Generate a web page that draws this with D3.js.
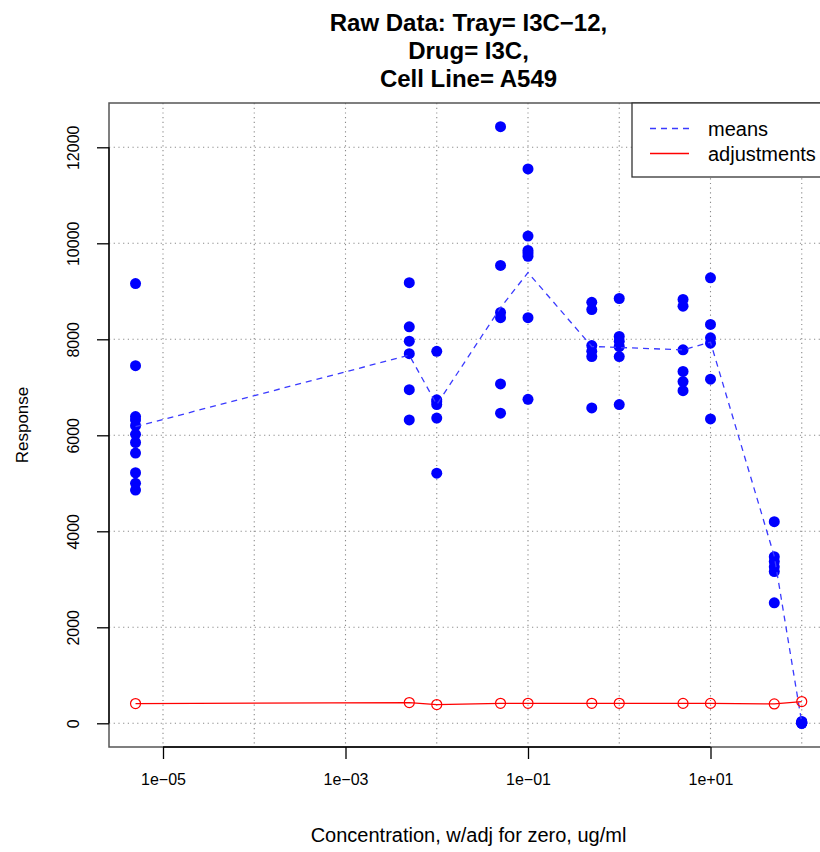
<!DOCTYPE html>
<html>
<head>
<meta charset="utf-8">
<script src="https://cdn.jsdelivr.net/npm/d3@7"></script>
<style>
  body { margin: 0; background: #fff; }
  svg { font-family: "Liberation Sans", Arial, sans-serif; }
</style>
</head>
<body>
<div id="chart"></div>
<script>
// concentrations (ug/ml, zero adjusted)
var concs = [5e-6, 0.005, 0.01, 0.05, 0.1, 0.5, 1, 5, 10, 50, 100];

// raw responses, one list per concentration
var responses = [
  [9160, 7450, 6390, 6320, 6200, 6020, 5850, 5630, 5220, 5000, 4860],
  [9180, 8260, 7960, 7700, 6950, 6320],
  [7750, 6740, 6700, 6640, 6360, 5210],
  [12430, 9540, 8560, 8450, 7070, 6460],
  [11550, 10150, 9850, 9800, 9730, 8450, 6750],
  [8770, 8620, 7870, 7750, 7640, 6570],
  [8850, 8060, 7960, 7850, 7640, 6640],
  [8830, 8690, 7780, 7330, 7120, 6930],
  [9280, 8310, 8030, 7920, 7170, 6340],
  [4200, 3470, 3370, 3260, 3160, 2510],
  [40, 25, 15, 5, 0, 0]
];

var means = [6180, 7670, 6640, 8660, 9390, 7850, 7830, 7780, 7940, 3480, 15];
var adjustments = [411, 432, 390, 417, 417, 417, 417, 415, 415, 403, 453];

var xTicks = [1e-5, 1e-3, 1e-1, 1e1];
var xTickLabels = ["1e\u221205", "1e\u221203", "1e\u221201", "1e+01"];
var xGrid = [1e-5, 1e-4, 1e-3, 1e-2, 1e-1, 1e0, 1e1, 1e2];
var yTicks = [0, 2000, 4000, 6000, 8000, 10000, 12000];

var titleLines = ["Raw Data: Tray= I3C\u221212,", "Drug= I3C,", "Cell Line= A549"];

var width = 820, height = 852;
var box = { left: 109, top: 103, right: 828, bottom: 747 };

var svg = d3.select("#chart").append("svg")
  .attr("width", width)
  .attr("height", height);

var x = d3.scaleLog().domain([1e-5, 1e2]).range([163, 801.75]);
var y = d3.scaleLinear().domain([0, 12000]).range([723.3, 147.3]);

// grid
var grid = svg.append("g")
  .attr("stroke", "#8a8a8a")
  .attr("stroke-width", 1.1)
  .attr("stroke-dasharray", "1.2,3.5");
grid.selectAll("line.v").data(xGrid).enter().append("line")
  .attr("x1", function(d) { return x(d); })
  .attr("x2", function(d) { return x(d); })
  .attr("y1", box.top).attr("y2", box.bottom);
grid.selectAll("line.h").data(yTicks).enter().append("line")
  .attr("y1", function(d) { return y(d); })
  .attr("y2", function(d) { return y(d); })
  .attr("x1", box.left).attr("x2", box.right);

// plot box
svg.append("rect")
  .attr("x", box.left).attr("y", box.top)
  .attr("width", box.right - box.left).attr("height", box.bottom - box.top)
  .attr("fill", "none").attr("stroke", "#555").attr("stroke-width", 1.5);

// axes
var xAxis = d3.axisBottom(x).tickValues(xTicks)
  .tickFormat(function(d, i) { return xTickLabels[i]; })
  .tickSize(12).tickPadding(15).tickSizeOuter(0);
var gx = svg.append("g").attr("transform", "translate(0," + box.bottom + ")").call(xAxis);
gx.select(".domain").remove();
gx.append("line").attr("x1", x(xTicks[0])).attr("x2", x(xTicks[xTicks.length - 1]))
  .attr("stroke", "#000").attr("stroke-width", 1.3);

var yAxis = d3.axisLeft(y).tickValues(yTicks).tickFormat(d3.format("d"))
  .tickSize(12).tickPadding(0).tickSizeOuter(0);
var gy = svg.append("g").attr("transform", "translate(" + box.left + ",0)").call(yAxis);
gy.select(".domain").remove();
gy.append("line").attr("y1", y(0)).attr("y2", y(12000))
  .attr("stroke", "#000").attr("stroke-width", 1.3);

svg.selectAll(".tick line").attr("stroke", "#000").attr("stroke-width", 1.3);
svg.selectAll(".tick text").attr("fill", "#000").style("font-size", "16px");
gy.selectAll(".tick text")
  .attr("x", 0).attr("y", 0).attr("dy", null)
  .attr("text-anchor", "middle")
  .attr("transform", "translate(-30,0) rotate(-90)");

// raw points
var pts = [];
concs.forEach(function(c, i) {
  responses[i].forEach(function(r) { pts.push({ c: c, r: r }); });
});
svg.append("g").selectAll("circle").data(pts).enter().append("circle")
  .attr("cx", function(d) { return x(d.c); })
  .attr("cy", function(d) { return y(d.r); })
  .attr("r", 5.5)
  .attr("fill", "#0000ff");

// means line
var line = d3.line()
  .x(function(d) { return x(d[0]); })
  .y(function(d) { return y(d[1]); });
svg.append("path")
  .datum(d3.zip(concs, means))
  .attr("d", line)
  .attr("fill", "none")
  .attr("stroke", "#3a3aff")
  .attr("stroke-width", 1.3)
  .attr("stroke-dasharray", "6,5");

// adjustments
svg.append("path")
  .datum(d3.zip(concs, adjustments))
  .attr("d", line)
  .attr("fill", "none")
  .attr("stroke", "#ff0000")
  .attr("stroke-width", 1.3);
svg.append("g").selectAll("circle").data(d3.zip(concs, adjustments)).enter().append("circle")
  .attr("cx", function(d) { return x(d[0]); })
  .attr("cy", function(d) { return y(d[1]); })
  .attr("r", 5)
  .attr("fill", "none")
  .attr("stroke", "#ff0000")
  .attr("stroke-width", 1.2);

// legend
var lg = svg.append("g");
lg.append("rect").attr("x", 632).attr("y", box.top).attr("width", 200).attr("height", 74)
  .attr("fill", "#fff").attr("stroke", "#333").attr("stroke-width", 1.3);
var legendItems = [
  { label: "means", color: "#3a3aff", dash: "6,5" },
  { label: "adjustments", color: "#ff0000", dash: null }
];
legendItems.forEach(function(it, i) {
  var ly = 128.5 + i * 25;
  lg.append("line").attr("x1", 650).attr("x2", 689).attr("y1", ly).attr("y2", ly)
    .attr("stroke", it.color).attr("stroke-width", 1.6)
    .attr("stroke-dasharray", it.dash);
  lg.append("text").attr("x", 708).attr("y", ly + 7)
    .style("font-size", "20px").text(it.label);
});

// titles
var cx = (box.left + box.right) / 2;
svg.append("g").selectAll("text").data(titleLines).enter().append("text")
  .attr("x", cx)
  .attr("y", function(d, i) { return 31 + i * 28; })
  .attr("text-anchor", "middle")
  .style("font-size", "24px")
  .style("font-weight", "bold")
  .text(function(d) { return d; });

svg.append("text")
  .attr("x", cx).attr("y", 842)
  .attr("text-anchor", "middle")
  .style("font-size", "20px")
  .text("Concentration, w/adj for zero, ug/ml");

svg.append("text")
  .attr("transform", "translate(28," + ((box.top + box.bottom) / 2) + ") rotate(-90)")
  .attr("text-anchor", "middle")
  .style("font-size", "17px")
  .text("Response");
</script>
</body>
</html>
